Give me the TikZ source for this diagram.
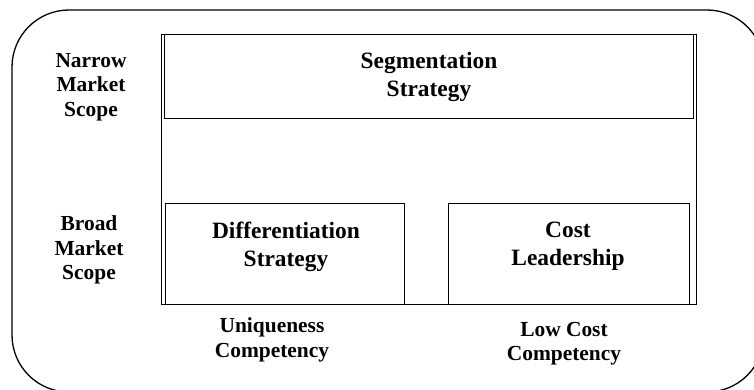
\documentclass[tikz,border=0pt]{standalone}
\usepackage{fontspec}
\setmainfont{Liberation Serif}
\begin{document}
\begin{tikzpicture}[x=1bp,y=-1bp,
  boxline/.style={draw=black,line width=1bp,inner sep=0pt,outer sep=0pt},
  maintext/.style={align=center,font=\fontsize{23.5}{28}\selectfont\bfseries,inner sep=0pt},
  sidetext/.style={align=center,font=\fontsize{21.5}{24.5}\selectfont\bfseries,inner sep=0pt}]
\useasboundingbox (0,0) rectangle (754,389);
\begin{scope}
\clip (0,0) rectangle (754,389);
\draw[line width=1.3bp,rounded corners=57bp] (12,10) rectangle (764,392);
\end{scope}
% outer frame
\node[boxline,minimum width=534bp,minimum height=270bp] (frame) at (429,169) {};
% segmentation box
\node[boxline,minimum width=528bp,minimum height=84bp] (seg) at (429,76) {};
% differentiation and cost boxes
\node[boxline,minimum width=239bp,minimum height=101bp] (diff) at (284.5,253.5) {};
\node[boxline,minimum width=241bp,minimum height=101bp] (cost) at (568.5,253.5) {};
% texts
\node[maintext] (segt) at (429,77) {Segmentation\\Strategy};
\node[maintext] (difft) at (286,246.5) {Differentiation\\Strategy};
\node[maintext] (costt) at (568,246.5) {Cost\\Leadership};
\node[sidetext] (narrow) at (91,87) {Narrow\\Market\\Scope};
\node[sidetext] (broad) at (89,250) {Broad\\Market\\Scope};
\node[sidetext] (uniq) at (272,340) {Uniqueness\\Competency};
\node[sidetext] (low) at (564,344) {Low Cost\\Competency};
\end{tikzpicture}
\end{document}
